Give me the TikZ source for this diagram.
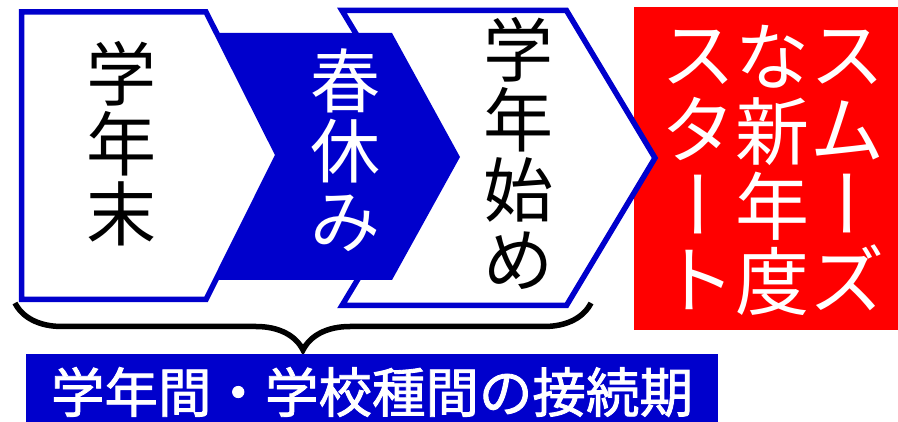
\documentclass[tikz,border=0pt]{standalone}
\usepackage{fontspec}
\usepackage{graphicx}
\usepackage{xcolor}
\usetikzlibrary{decorations.pathreplacing}
\newfontfamily\jpfont{Noto Sans CJK JP}
\newfontfamily\jpmedium[FakeBold=1.6]{Noto Sans CJK JP}
\definecolor{chevblue}{HTML}{0000CC}
\definecolor{boxred}{HTML}{FF0000}
\newcommand{\vbar}{\rotatebox[origin=c]{90}{\raisebox{0pt}[0.88em][0.12em]{ー}}}

\begin{document}
\begin{tikzpicture}[
  x=1pt, y=-1pt,
  chev/.style={draw=chevblue, line width=5.5pt, fill=white},
  vtext/.style={inner sep=0pt, align=center, font=\jpfont\fontsize{70}{70}\selectfont},
  rtext/.style={inner sep=0pt, align=center, text=white, font=\jpfont\fontsize{74}{75}\selectfont}
]
\useasboundingbox (0,0) rectangle (898,422);

% Red box (behind the last chevron tip)
\fill[boxred] (634,7) rectangle (898,330);

% Chevrons (back to front)
\draw[chev] (342,10.5) -- (566.5,10.5) -- (655,158) -- (566.5,305.5) -- (342,305.5) -- (431,158) -- cycle;
\fill[chevblue] (214,33) -- (392,33) -- (460,157) -- (392,280) -- (214,280) -- (276,155) -- cycle;
\draw[chev] (21.5,12) -- (206,12) -- (278,155) -- (206,299.5) -- (21.5,299.5) -- cycle;

% Chevron labels
\node[vtext] (yearend) at (121,144) {学\\年\\末};
\node[vtext, text=white] (spring) at (345,150) {春\\休\\み};
\node[vtext] (yearstart) at (518,153.5) {学\\年\\始\\め};

% Red box text
\node[rtext] (smooth) at (847,170) {ス\\ム\\\vbar\\ズ};
\node[rtext] (newyear) at (772,170) {な\\新\\年\\度};
\node[rtext] (startup) at (698,170) {ス\\タ\\\vbar\\ト};

% Brace
\coordinate (bl) at (15,303);
\coordinate (br) at (591,303);
\draw[decorate, decoration={brace, mirror, amplitude=47pt}, line width=5.5pt] (bl) -- (br);

% Bottom label
\fill[chevblue] (26,354) rectangle (718,430);
\node[inner sep=0pt, text=white, font=\jpmedium\fontsize{53.5}{53.5}\selectfont]
  (period) at (372,392) {学年間・学校種間の接続期};

\end{tikzpicture}
\end{document}
